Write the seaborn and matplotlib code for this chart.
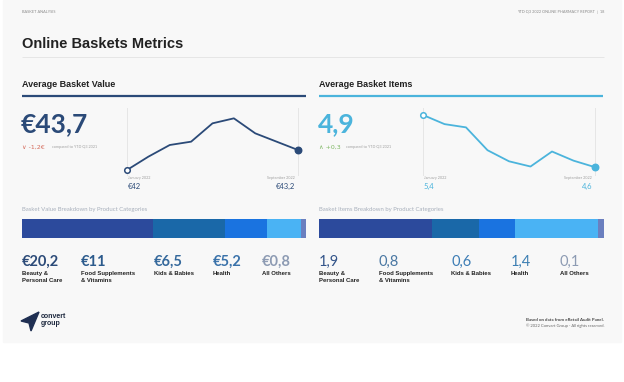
import numpy as np
import pandas as pd
import seaborn as sns
import matplotlib.pyplot as plt
from matplotlib.patches import Rectangle, Polygon
from matplotlib.lines import Line2D

# Data
months = ["January 2022", "February 2022", "March 2022", "April 2022", "May 2022",
          "June 2022", "July 2022", "August 2022", "September 2022"]
basket_value = [42.0, 42.8, 43.5, 43.7, 44.8, 45.1, 44.2, 43.7, 43.2]
basket_items = [5.40, 5.26, 5.21, 4.86, 4.69, 4.61, 4.84, 4.70, 4.60]
avg_value = 43.7
avg_items = 4.9
value_change = "-1,2€"
items_change = "+0,3"
categories = ["Beauty &\nPersonal Care", "Food Supplements\n& Vitamins",
              "Kids & Babies", "Health", "All Others"]
value_breakdown = [20.2, 11, 6.5, 5.2, 0.8]
items_breakdown = [1.9, 0.8, 0.6, 1.4, 0.1]

# Colours
navy = "#2b4a78"
sky = "#4bb4dc"
seg_colors = ["#2c4a9c", "#1a68a8", "#1a73e0", "#4ab3f4", "#6b7fbf"]
value_num_colors = ["#2b4a78", "#2b5a8c", "#35699c", "#3a72aa", "#8d9bb3"]
items_num_colors = ["#34558a", "#4a78a3", "#3d7db5", "#3d7fb3", "#8d9bb3"]

sns.set_theme(style="white")
plt.rcParams["font.family"] = ["Lato", "DejaVu Sans"]

W, H = 624, 382
fig = plt.figure(figsize=(W / 100, H / 100), dpi=100)
fig.patch.set_facecolor("white")


def fx(x):
    return x / W


def fy(y):
    return 1 - y / H


def px_axes(x0, y0, x1, y1):
    ax = fig.add_axes([fx(x0), fy(y1), (x1 - x0) / W, (y1 - y0) / H])
    ax.patch.set_visible(False)
    return ax


def euro(v):
    return "€" + f"{v:g}".replace(".", ",")


def num(v):
    return f"{v:g}".replace(".", ",")


def hline(x0, x1, y, color, lw):
    fig.add_artist(Line2D([fx(x0), fx(x1)], [fy(y), fy(y)], color=color, lw=lw,
                          transform=fig.transFigure, solid_capstyle="butt"))


# slide background
fig.add_artist(Rectangle((fx(3), fy(342)), 618 / W, 342 / H, transform=fig.transFigure,
                         color="#f8f8f8", zorder=-10))

# header
fig.text(fx(22), fy(12), "BASKET ANALYSIS", fontsize=2.8, color="#8a8a8a", va="center")
fig.text(fx(604), fy(12), "YTD Q3 2022 ONLINE PHARMACY REPORT  |  18", fontsize=2.8,
         color="#8a8a8a", va="center", ha="right")
fig.text(fx(22), fy(48.5), "Online Baskets Metrics", fontsize=10.5, weight="bold",
         family="Liberation Sans", color="#222222", va="baseline")
hline(22, 604, 57, "#e3e3e3", 0.6)

# section titles
fig.text(fx(22), fy(87), "Average Basket Value", fontsize=6.5, weight="bold",
         family="Liberation Sans", color="#222222", va="baseline")
fig.text(fx(319), fy(87), "Average Basket Items", fontsize=6.5, weight="bold",
         family="Liberation Sans", color="#222222", va="baseline")
hline(22, 306, 95.5, navy, 1.6)
hline(319, 603, 95.5, sky, 1.6)

# big numbers
fig.text(fx(21), fy(132), euro(avg_value), fontsize=19, weight="bold", color=navy,
         va="baseline")
fig.text(fx(318), fy(132), num(avg_items), fontsize=19, weight="bold", color=sky,
         va="baseline")
fig.text(fx(22), fy(147), "∨ " + value_change, fontsize=4.5, color="#d46a5a", va="center",
         family=["DejaVu Sans"])
fig.text(fx(52), fy(147), "compared to YTD Q3 2021", fontsize=2.7, color="#a0a0a0",
         va="center")
fig.text(fx(319), fy(147), "∧ " + items_change, fontsize=4.5, color="#7cb661", va="center",
         family=["DejaVu Sans"])
fig.text(fx(346), fy(147), "compared to YTD Q3 2021", fontsize=2.7, color="#a0a0a0",
         va="center")


def trend(series, color, box, ylim, first_fmt):
    df = pd.DataFrame({"idx": np.arange(len(series)), "val": series})
    ax = px_axes(*box)
    sns.lineplot(data=df, x="idx", y="val", ax=ax, color=color, lw=1.3)
    ax.scatter(df["idx"].iloc[:1], df["val"].iloc[:1], s=16, facecolor="white",
               edgecolor=color, lw=1.1, zorder=4, clip_on=False)
    ax.scatter(df["idx"].iloc[-1:], df["val"].iloc[-1:], s=22, color=color,
               zorder=4, clip_on=False)
    ax.set_xlim(0, len(series) - 1)
    ax.set_ylim(*ylim)
    for s in ["top", "bottom"]:
        ax.spines[s].set_visible(False)
    for s in ["left", "right"]:
        ax.spines[s].set_color("#e6e6e6")
        ax.spines[s].set_linewidth(0.7)
    ax.set_xticks([])
    ax.set_yticks([])
    ax.set_xlabel("")
    ax.set_ylabel("")
    x0, y0, x1, y1 = box
    fig.text(fx(x0 + 1), fy(178), months[0], fontsize=2.7, color="#a0a0a0", va="center")
    fig.text(fx(x1 - 3), fy(178), months[-1], fontsize=2.7, color="#a0a0a0", va="center",
             ha="right")
    fig.text(fx(x0 + 1), fy(186.5), first_fmt(series[0]), fontsize=5.5, color=color,
             va="center")
    fig.text(fx(x1 - 3), fy(186.5), first_fmt(series[-1]), fontsize=5.5, color=color,
             va="center", ha="right")


trend(basket_value, navy, (127, 108, 298, 175), (41.7, 45.72), euro)
trend(basket_items, sky, (423, 108, 595, 175), (4.48, 5.507), num)


def breakdown(values, box, title, xs, fmt, num_colors, weight):
    x0, y0, x1, y1 = box
    fig.text(fx(x0), fy(210), title, fontsize=4.3, color="#a8b0bc", va="center")
    ax = px_axes(*box)
    left = np.concatenate([[0], np.cumsum(values)[:-1]])
    ax.barh([0] * len(values), values, left=left, color=seg_colors, height=1,
            edgecolor="none")
    ax.set_xlim(0, sum(values))
    ax.set_ylim(-0.5, 0.5)
    ax.axis("off")
    for x, v, c, lab in zip(xs, values, num_colors, categories):
        fig.text(fx(x), fy(266), fmt(v), fontsize=10.5, weight=weight, color=c,
                 va="baseline")
        fig.text(fx(x), fy(271), lab, fontsize=4.3, weight="bold",
                 family="Liberation Sans", color="#222222", va="top", linespacing=1.5)


breakdown(value_breakdown, (22, 219, 306, 238),
          "Basket Value Breakdown by Product Categories",
          [22, 81, 154, 213, 262], euro, value_num_colors, "bold")
breakdown(items_breakdown, (319, 219, 604, 238),
          "Basket Items Breakdown by Product Categories",
          [319, 379, 451, 511, 560], num, items_num_colors, "normal")

# footer
logo = [(21, 321), (39, 312), (31, 331), (29, 323)]
fig.add_artist(Polygon([(fx(a), fy(b)) for a, b in logo], closed=True,
                       transform=fig.transFigure, color="#1f2f52"))
fig.text(fx(41), fy(317), "convert", fontsize=5, weight="bold", family="Liberation Sans",
         color="#1f2a40", va="center")
fig.text(fx(41), fy(323.5), "group", fontsize=5, weight="bold", family="Liberation Sans",
         color="#1f2a40", va="center")
fig.text(fx(604), fy(320), "Based on data from eRetail Audit Panel.", fontsize=3.2,
         weight="bold", color="#444444", va="center", ha="right")
fig.text(fx(604), fy(326), "© 2022 Convert Group - All rights reserved.", fontsize=3.0,
         color="#666666", va="center", ha="right")

fig.savefig("out.png", dpi=100)
